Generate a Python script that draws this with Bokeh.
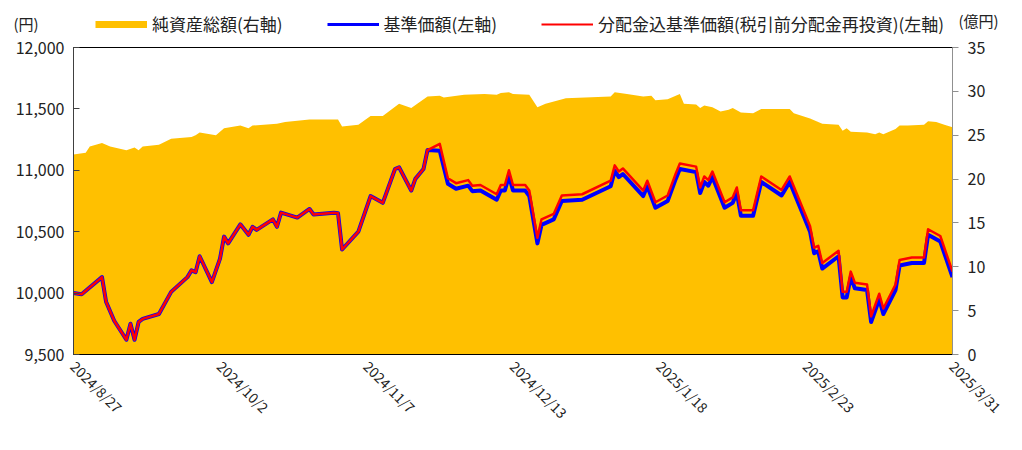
import math
from datetime import datetime
from bokeh.plotting import figure
from bokeh.layouts import column
from bokeh.models import (Range1d, LinearAxis, FixedTicker, NumeralTickFormatter,
                          Legend, LegendItem, Label)
from bokeh.embed import file_html
from bokeh.resources import INLINE

# ---------------- data ----------------
nav_dates = [
    "2024/8/27", "2024/8/29", "2024/9/3", "2024/9/4", "2024/9/6", "2024/9/9", "2024/9/10", "2024/9/11",
    "2024/9/12", "2024/9/13", "2024/9/17", "2024/9/20", "2024/9/24", "2024/9/25", "2024/9/26", "2024/9/27",
    "2024/9/30", "2024/10/2", "2024/10/3", "2024/10/4", "2024/10/7", "2024/10/9", "2024/10/10", "2024/10/11",
    "2024/10/15", "2024/10/16", "2024/10/17", "2024/10/21", "2024/10/24", "2024/10/25", "2024/10/30", "2024/10/31",
    "2024/11/1", "2024/11/5", "2024/11/8", "2024/11/11", "2024/11/14", "2024/11/15", "2024/11/18", "2024/11/19",
    "2024/11/21", "2024/11/22", "2024/11/25", "2024/11/27", "2024/11/29", "2024/12/2", "2024/12/3", "2024/12/5",
    "2024/12/9", "2024/12/10", "2024/12/11", "2024/12/12", "2024/12/13", "2024/12/16", "2024/12/17", "2024/12/19",
    "2024/12/20", "2024/12/23", "2024/12/25", "2024/12/30", "2025/1/6", "2025/1/7", "2025/1/8", "2025/1/9",
    "2025/1/14", "2025/1/15", "2025/1/17", "2025/1/20", "2025/1/22", "2025/1/23", "2025/1/27", "2025/1/28",
    "2025/1/29", "2025/1/30", "2025/1/31", "2025/2/3", "2025/2/5", "2025/2/6", "2025/2/7", "2025/2/10",
    "2025/2/12", "2025/2/17", "2025/2/19", "2025/2/24", "2025/2/25", "2025/2/26", "2025/2/27", "2025/3/3",
    "2025/3/4", "2025/3/5", "2025/3/6", "2025/3/7", "2025/3/10", "2025/3/11", "2025/3/13", "2025/3/14",
    "2025/3/17", "2025/3/18", "2025/3/21", "2025/3/24", "2025/3/25", "2025/3/28", "2025/3/31",
]

# 基準価額 (円)
nav = [
    10000, 9990, 10130, 9930, 9775, 9620, 9750, 9620,
    9765, 9790, 9830, 10010, 10130, 10185, 10170, 10300,
    10090, 10280, 10460, 10405, 10560, 10475, 10540, 10515,
    10600, 10540, 10655, 10615, 10685, 10640, 10655, 10650,
    10355, 10500, 10790, 10735, 11010, 11025, 10835, 10930,
    11010, 11165, 11160, 10890, 10850, 10875, 10830, 10835,
    10760, 10835, 10835, 10955, 10835, 10835, 10790, 10405,
    10555, 10600, 10750, 10760, 10870, 10995, 10945, 10970,
    10790, 10870, 10695, 10750, 10930, 11010, 10985, 10815,
    10905, 10875, 10945, 10695, 10735, 10815, 10630, 10630,
    10905, 10795, 10905, 10500, 10325, 10340, 10200, 10300,
    9965, 9965, 10130, 10040, 10025, 9765, 9950, 9830,
    10025, 10225, 10245, 10245, 10475, 10420, 10130,
]

# 分配金込基準価額 (税引前分配金再投資) (円)
nav_reinvested = [
    10000, 9990, 10130, 9930, 9775, 9620, 9750, 9620,
    9765, 9790, 9830, 10010, 10130, 10185, 10170, 10300,
    10090, 10280, 10460, 10405, 10560, 10475, 10540, 10515,
    10600, 10540, 10655, 10615, 10685, 10640, 10655, 10650,
    10355, 10500, 10790, 10735, 11010, 11025, 10835, 10930,
    11010, 11165, 11215, 10935, 10895, 10920, 10875, 10880,
    10805, 10880, 10880, 11000, 10880, 10880, 10835, 10450,
    10600, 10645, 10795, 10805, 10915, 11040, 10990, 11015,
    10835, 10915, 10740, 10795, 10975, 11055, 11030, 10860,
    10950, 10920, 10990, 10740, 10780, 10860, 10675, 10675,
    10950, 10840, 10950, 10545, 10370, 10385, 10245, 10345,
    10010, 10010, 10175, 10085, 10070, 9810, 9995, 9875,
    10070, 10270, 10290, 10290, 10520, 10465, 10175,
]

asset_dates = [
    "2024/8/27", "2024/8/30", "2024/8/31", "2024/9/3", "2024/9/5", "2024/9/9", "2024/9/11", "2024/9/12",
    "2024/9/13", "2024/9/17", "2024/9/20", "2024/9/25", "2024/9/26", "2024/9/27", "2024/10/1", "2024/10/3",
    "2024/10/7", "2024/10/9", "2024/10/10", "2024/10/16", "2024/10/18", "2024/10/24", "2024/10/31", "2024/11/1",
    "2024/11/5", "2024/11/8", "2024/11/11", "2024/11/15", "2024/11/18", "2024/11/22", "2024/11/25", "2024/11/26",
    "2024/12/1", "2024/12/6", "2024/12/9", "2024/12/10", "2024/12/12", "2024/12/13", "2024/12/17", "2024/12/19",
    "2024/12/21", "2024/12/26", "2025/1/6", "2025/1/7", "2025/1/10", "2025/1/14", "2025/1/16", "2025/1/17",
    "2025/1/20", "2025/1/23", "2025/1/24", "2025/1/27", "2025/1/28", "2025/1/29", "2025/1/31", "2025/2/2",
    "2025/2/4", "2025/2/5", "2025/2/7", "2025/2/10", "2025/2/12", "2025/2/17", "2025/2/19", "2025/2/20",
    "2025/2/24", "2025/2/27", "2025/3/3", "2025/3/4", "2025/3/5", "2025/3/6", "2025/3/10", "2025/3/12",
    "2025/3/13", "2025/3/14", "2025/3/17", "2025/3/18", "2025/3/20", "2025/3/24", "2025/3/25", "2025/3/27",
    "2025/3/29", "2025/3/31",
]

# 純資産総額 (億円)
net_assets = [
    22.8, 23.0, 23.7, 24.1, 23.7, 23.3, 23.6, 23.3,
    23.7, 23.9, 24.6, 24.8, 25.0, 25.3, 25.0, 25.8,
    26.1, 25.8, 26.1, 26.3, 26.5, 26.8, 26.8, 26.0,
    26.2, 27.2, 27.2, 28.6, 28.1, 29.4, 29.5, 29.3,
    29.6, 29.7, 29.6, 29.8, 29.9, 29.7, 29.6, 28.2,
    28.6, 29.2, 29.4, 29.9, 29.7, 29.4, 29.5, 29.0,
    29.1, 29.7, 28.6, 28.5, 28.1, 28.4, 28.2, 27.7,
    27.9, 28.1, 27.6, 27.5, 28.0, 28.0, 28.0, 27.5,
    26.9, 26.3, 26.2, 25.5, 25.8, 25.4, 25.3, 25.1,
    25.3, 25.1, 25.7, 26.1, 26.1, 26.2, 26.6, 26.5,
    26.2, 25.9,
]

x_tick_labels = ["2024/8/27", "2024/10/2", "2024/11/7", "2024/12/13", "2025/1/18", "2025/2/23", "2025/3/31"]
left_ticks = [9500, 10000, 10500, 11000, 11500, 12000]
right_ticks = [0, 5, 10, 15, 20, 25, 30, 35]

legend_labels = ["純資産総額(右軸)", "基準価額(左軸)", "分配金込基準価額(税引前分配金再投資)(左軸)"]
unit_labels = ["(円)", "(億円)"]

# ---------------- helpers ----------------
def to_dt(s):
    return datetime.strptime(s, "%Y/%m/%d")

EPOCH = datetime(1970, 1, 1)

def to_ms(s):
    return (to_dt(s) - EPOCH).total_seconds() * 1000.0

nav_x = [to_dt(s) for s in nav_dates]
asset_x = [to_dt(s) for s in asset_dates]

FONT = "Noto Sans CJK JP"
ORANGE = "#FFC000"
BLUE = "#0000FF"
RED = "#FF0000"
TXT = "#222222"
W = 1006
HEAD_H = 36

# ---------------- header strip (legend + unit labels) ----------------
head = figure(width=W, height=HEAD_H, output_backend="svg", toolbar_location=None,
              x_range=Range1d(0, 1), y_range=Range1d(0, 1),
              x_axis_location=None, y_axis_location=None,
              min_border_left=0, min_border_right=0, min_border_top=0, min_border_bottom=0)
head.frame_align = False
head.xgrid.visible = False
head.ygrid.visible = False
head.outline_line_color = None

# legend-only glyphs: a single point each, so nothing is drawn in the strip itself
lg_orange = head.line(x=[-1], y=[-1], line_color=ORANGE, line_width=7, line_cap="butt")
lg_blue = head.line(x=[-1], y=[-1], line_color=BLUE, line_width=3, line_cap="butt")
lg_red = head.line(x=[-1], y=[-1], line_color=RED, line_width=2, line_cap="butt")

leg = Legend(items=[LegendItem(label=legend_labels[0], renderers=[lg_orange]),
                    LegendItem(label=legend_labels[1], renderers=[lg_blue]),
                    LegendItem(label=legend_labels[2], renderers=[lg_red])],
             location=(95, 0), orientation="horizontal",
             padding=0, margin=0, spacing=44,
             glyph_width=52, glyph_height=20, label_height=20, label_standoff=5,
             label_text_font=FONT, label_text_font_size="17px",
             label_text_color=TXT,
             border_line_color=None, background_fill_alpha=0)
head.add_layout(leg, "center")

head.add_layout(Label(x=13, y=13, x_units="screen", y_units="screen", text=unit_labels[0],
                      text_font=FONT, text_font_size="15px", text_baseline="middle",
                      text_color=TXT))
head.add_layout(Label(x=958, y=16, x_units="screen", y_units="screen", text=unit_labels[1],
                      text_font=FONT, text_font_size="15px", text_baseline="middle",
                      text_color=TXT))

# ---------------- main chart ----------------
p = figure(width=W, height=434 - HEAD_H, output_backend="svg", toolbar_location=None,
           x_axis_type="datetime",
           x_range=Range1d(to_dt(x_tick_labels[0]), to_dt(x_tick_labels[-1])),
           y_range=Range1d(left_ticks[0], left_ticks[-1]),
           min_border_left=73, min_border_right=54, min_border_top=11, min_border_bottom=80)
p.frame_align = False
p.extra_y_ranges = {"right": Range1d(right_ticks[0], right_ticks[-1])}

p.xgrid.visible = False
p.ygrid.visible = False
p.outline_line_color = "black"
p.outline_line_width = 1

# area (net assets, right axis)
p.varea(x=asset_x, y1=0, y2=net_assets, fill_color=ORANGE, y_range_name="right")
# lines
p.line(x=nav_x, y=nav, line_color=BLUE, line_width=4, line_join="round")
p.line(x=nav_x, y=nav_reinvested, line_color=RED, line_width=2.5, line_join="round")

# x axis
xa = p.xaxis[0]
xa.ticker = FixedTicker(ticks=[to_ms(s) for s in x_tick_labels])
xa.major_label_overrides = {to_ms(s): s for s in x_tick_labels}
xa.major_label_orientation = -math.pi / 4
xa.major_tick_line_color = None
xa.minor_tick_line_color = None
xa.axis_line_color = "black"
xa.major_label_standoff = 3
xa.major_label_text_font = FONT
xa.major_label_text_font_size = "14px"
xa.major_label_text_color = TXT

# left axis
ya = p.yaxis[0]
ya.ticker = FixedTicker(ticks=left_ticks)
ya.formatter = NumeralTickFormatter(format="0,0")
ya.major_tick_in = 6
ya.major_tick_out = 0
ya.minor_tick_line_color = None
ya.axis_line_color = "#404040"
ya.major_tick_line_color = "#404040"
ya.major_label_standoff = 9
ya.major_label_text_font = FONT
ya.major_label_text_font_size = "16px"
ya.major_label_text_color = TXT

# right axis
ra = LinearAxis(y_range_name="right", ticker=FixedTicker(ticks=right_ticks))
ra.major_tick_in = 0
ra.major_tick_out = 6
ra.minor_tick_line_color = None
ra.axis_line_color = "#909090"
ra.major_tick_line_color = "#909090"
ra.major_label_standoff = 9
ra.major_label_text_font = FONT
ra.major_label_text_font_size = "16px"
ra.major_label_text_color = TXT
p.add_layout(ra, "right")

layout = column(head, p, spacing=0)
open("out.html", "w").write(file_html(layout, INLINE))
